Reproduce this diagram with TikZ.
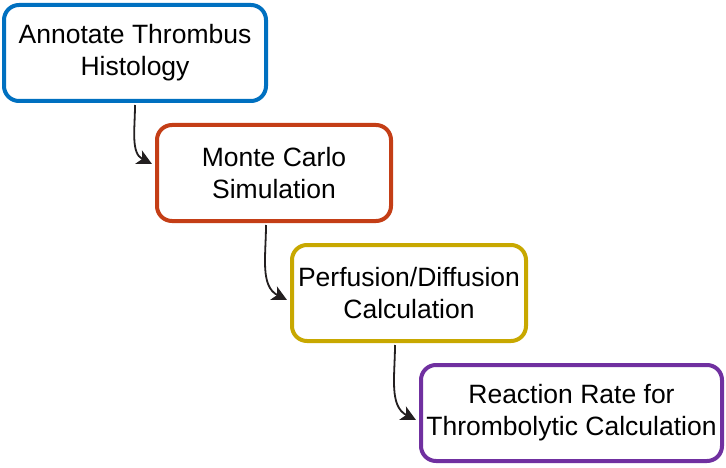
\documentclass[tikz,border=0pt]{standalone}
\usepackage{fontspec}
\setmainfont{Liberation Sans}
\usetikzlibrary{arrows.meta}
\definecolor{cblue}{RGB}{0,112,192}
\definecolor{cred}{RGB}{196,62,22}
\definecolor{cgold}{RGB}{200,168,0}
\definecolor{cpurple}{RGB}{112,48,160}
\definecolor{cdark}{RGB}{35,31,32}
\begin{document}
\begin{tikzpicture}[x=1pt,y=-1pt,
  stepbox/.style={draw,line width=4pt,rounded corners=15pt,fill=white,align=center,inner sep=0pt,
    font=\fontsize{26.5}{32}\selectfont,minimum height=96pt},
  flow/.style={cdark,line width=1.8pt,-{Stealth[length=15pt,width=15pt,inset=4pt]}}]
\useasboundingbox (0,0) rectangle (726,468);
\node[stepbox,draw=cblue,minimum width=262pt] (b1) at (135,53) {Annotate Thrombus\\Histology};
\node[stepbox,draw=cred,minimum width=234pt] (b2) at (274,173) {Monte Carlo\\Simulation};
\node[stepbox,draw=cgold,minimum width=234pt] (b3) at (409,293) {Perfusion/Diffusion\\Calculation};
\node[stepbox,draw=cpurple,minimum width=301pt] (b4) at (571.5,413) {Reaction Rate for\\Thrombolytic Calculation};
\draw[flow] ([yshift=-2pt]b1.south) to[out=-90,in=153] ([xshift=-3pt,yshift=9pt]b2.west);
\draw[flow] ([xshift=-8pt,yshift=-2pt]b2.south) to[out=-90,in=153] ([xshift=-3pt,yshift=-7pt]b3.west);
\draw[flow] ([xshift=-14pt,yshift=-2pt]b3.south) to[out=-90,in=153] ([xshift=-3pt,yshift=-7pt]b4.west);
\end{tikzpicture}
\end{document}
